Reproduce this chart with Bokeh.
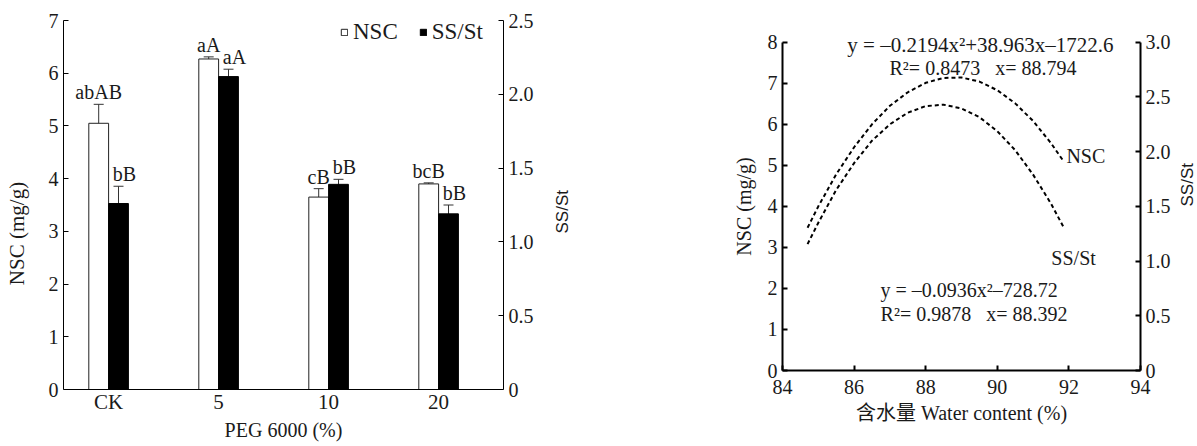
import math
from bokeh.plotting import figure
from bokeh.models import (Range1d, LinearAxis, FixedTicker, ColumnDataSource, Whisker,
                          TeeHead, Legend, LegendItem, Label, NumeralTickFormatter)
from bokeh.layouts import row
from bokeh.embed import file_html
from bokeh.resources import INLINE
from bokeh.core.properties import value

# ---------------- data ----------------
categories = ["CK", "5", "10", "20"]
nsc_mean = [5.05, 6.27, 3.65, 3.90]
nsc_err = [0.36, 0.04, 0.16, 0.02]
ss_mean = [1.26, 2.12, 1.39, 1.19]
ss_err = [0.117, 0.05, 0.034, 0.06]
nsc_letters = ["abAB", "aA", "cB", "bcB"]
ss_letters = ["bB", "aA", "bB", "bB"]

water = [84.7, 85.0, 85.5, 86.0, 86.5, 87.0, 87.5, 88.0, 88.5, 89.0,
         89.5, 90.0, 90.5, 91.0, 91.5, 91.85]
nsc_fit = [3.48, 4.00, 4.78, 5.44, 6.00, 6.45, 6.78, 7.01, 7.13, 7.14,
           7.04, 6.83, 6.51, 6.08, 5.54, 5.10]
ss_fit = [1.155, 1.35, 1.65, 1.895, 2.10, 2.25, 2.356, 2.416, 2.429, 2.395,
          2.315, 2.187, 2.013, 1.79, 1.525, 1.31]

SERIF = "Liberation Serif"
SANS = "Liberation Sans"
TXT = "#1a1a1a"
TOP = 20
FRAME_H = 426          # frames run to the bottom of the canvas; x axes sit at y = 0
LEFT_W = 63 + 440 + 78


def style_axis(ax, size="20px"):
    ax.axis_line_color = "black"
    ax.major_tick_line_color = "black"
    ax.minor_tick_line_color = None
    ax.major_tick_in = 5
    ax.major_tick_out = 0
    ax.major_label_text_font = SERIF
    ax.major_label_text_font_size = size
    ax.major_label_text_color = TXT
    ax.axis_label_text_font = SERIF
    ax.axis_label_text_font_size = "21px"
    ax.axis_label_text_font_style = "normal"
    ax.axis_label_text_color = TXT


# ---------------- left chart ----------------
# 0 -> 369 px below frame top, 7 -> frame top
left_lo = -(FRAME_H - 369) / (369 / 7)
p1 = figure(frame_width=440, frame_height=FRAME_H,
            x_range=Range1d(-0.41, 3.59), y_range=Range1d(left_lo, 7),
            output_backend="svg", toolbar_location=None,
            min_border_left=63, min_border_right=78, min_border_top=TOP, min_border_bottom=0)
p1.outline_line_color = None
p1.xgrid.visible = False
p1.ygrid.visible = False
p1.extra_y_ranges = {"ss": Range1d(left_lo * 2.5 / 7, 2.5)}

idx = list(range(len(categories)))
half = 0.09
xw = [i - half for i in idx]
xb = [i + half for i in idx]

src_n = ColumnDataSource(dict(x=xw, top=nsc_mean, up=[m + e for m, e in zip(nsc_mean, nsc_err)],
                              lo=[m - e for m, e in zip(nsc_mean, nsc_err)], lab=nsc_letters))
src_s = ColumnDataSource(dict(x=xb, top=ss_mean, up=[m + e for m, e in zip(ss_mean, ss_err)],
                              lo=[m - e for m, e in zip(ss_mean, ss_err)], lab=ss_letters))

r_n = p1.vbar(x="x", top="top", bottom=0, width=0.18, source=src_n, fill_color="white",
              line_color="#222222", line_width=1)
r_s = p1.vbar(x="x", top="top", bottom=0, width=0.18, source=src_s, fill_color="black",
              line_color="black", line_width=1, y_range_name="ss")

for src, rng in ((src_n, "default"), (src_s, "ss")):
    w = Whisker(base="x", upper="up", lower="lo", source=src, line_color="#333333",
                line_width=1, y_range_name=rng,
                upper_head=TeeHead(size=10, line_color="#333333", line_width=1),
                lower_head=TeeHead(size=10, line_color="#333333", line_width=1))
    p1.add_layout(w)

p1.text(x="x", y="up", text="lab", source=src_n, text_align="center", text_baseline="bottom",
        y_offset=-1, text_font=value(SERIF), text_font_size="20px", text_color=TXT)
p1.text(x="x", y="up", text="lab", source=src_s, text_align="center", text_baseline="bottom",
        y_offset=-1, x_offset=6, text_font=value(SERIF), text_font_size="20px", text_color=TXT,
        y_range_name="ss")

xa = p1.xaxis[0]
style_axis(xa, "21px")
xa.fixed_location = 0
xa.ticker = FixedTicker(ticks=idx)
xa.major_label_overrides = {i: c for i, c in zip(idx, categories)}
xa.major_tick_line_color = None
xa.major_label_standoff = 0
xa.axis_label = "PEG 6000 (%)"
xa.axis_label_text_font_size = "20px"
xa.axis_label_standoff = 2

ya = p1.yaxis[0]
style_axis(ya)
ya.bounds = (0, 7)
ya.ticker = FixedTicker(ticks=list(range(0, 8)))
ya.axis_label = "NSC (mg/g)"
ya.axis_label_standoff = 17

ra = LinearAxis(y_range_name="ss", axis_label="SS/St", bounds=(0, 2.5),
                ticker=FixedTicker(ticks=[0, 0.5, 1.0, 1.5, 2.0, 2.5]),
                formatter=NumeralTickFormatter(format="0.0"))
style_axis(ra)
ra.major_label_overrides = {0: "0"}
ra.axis_label_text_font = SANS
ra.axis_label_text_font_size = "17px"
ra.axis_label_standoff = 26
ra.axis_label_orientation = math.pi / 2
p1.add_layout(ra, "right")

leg = Legend(items=[LegendItem(label="NSC", renderers=[r_n]),
                    LegendItem(label="SS/St", renderers=[r_s])],
             orientation="horizontal", location=(277, FRAME_H - 25),
             glyph_width=8, glyph_height=8, label_height=24, label_standoff=5, spacing=21,
             padding=0, margin=0, border_line_alpha=0, background_fill_alpha=0,
             label_text_font=SERIF, label_text_font_size="23px", label_text_color=TXT)
p1.add_layout(leg)

# ---------------- right chart ----------------
# canvas-wide frame; every axis is pinned to its data location
FRAME_W2 = 1197 - LEFT_W
x_ppu = (1137 - 779) / 10            # px per % water content
x_lo = 84 - (779 - LEFT_W) / x_ppu
x_hi = 94 + (LEFT_W + FRAME_W2 - 1137) / x_ppu
y_ppu = (350 - 21.7) / 8             # 8 -> 21.7 px below frame top, 0 -> 350 px
r_hi = 8 + 21.7 / y_ppu
r_lo = -(FRAME_H - 350) / y_ppu
p2 = figure(frame_width=FRAME_W2, frame_height=FRAME_H,
            x_range=Range1d(x_lo, x_hi), y_range=Range1d(r_lo, r_hi),
            output_backend="svg", toolbar_location=None,
            min_border_left=0, min_border_right=0, min_border_top=TOP, min_border_bottom=0)
p2.outline_line_color = None
p2.xgrid.visible = False
p2.ygrid.visible = False
p2.extra_y_ranges = {"ss": Range1d(r_lo * 3 / 8, r_hi * 3 / 8)}

p2.line(water, nsc_fit, line_color="black", line_width=2, line_dash="4 3")
p2.line(water, ss_fit, line_color="black", line_width=2, line_dash="4 3", y_range_name="ss")

xa2 = p2.xaxis[0]
style_axis(xa2)
xa2.ticker = FixedTicker(ticks=[84, 86, 88, 90, 92, 94])
xa2.fixed_location = 0
xa2.bounds = (84, 94)
xa2.axis_label = "含水量 Water content (%)"
xa2.axis_label_text_font = "Liberation Serif, Noto Sans CJK SC"
xa2.axis_label_text_font_size = "20px"
xa2.axis_label_standoff = 5
xa2.major_label_standoff = 9
xa2.axis_line_width = 2
xa2.major_tick_line_width = 2

ya2 = p2.yaxis[0]
style_axis(ya2)
ya2.fixed_location = 84
ya2.ticker = FixedTicker(ticks=list(range(0, 9)))
ya2.bounds = (0, 8)
ya2.axis_label = "NSC (mg/g)"
ya2.axis_label_text_font_size = "20px"
ya2.axis_label_standoff = 10
ya2.axis_line_width = 2
ya2.major_tick_line_width = 2

ra2 = LinearAxis(y_range_name="ss", axis_label="SS/St", bounds=(0, 3),
                 ticker=FixedTicker(ticks=[0, 0.5, 1.0, 1.5, 2.0, 2.5, 3.0]),
                 formatter=NumeralTickFormatter(format="0.0"))
style_axis(ra2)
ra2.fixed_location = 94
ra2.major_label_overrides = {0: "0"}
ra2.axis_label_text_font = SANS
ra2.axis_label_text_font_size = "17px"
ra2.axis_label_standoff = 14
ra2.axis_label_orientation = math.pi / 2
ra2.axis_line_width = 2
ra2.major_tick_line_width = 2
p2.add_layout(ra2, "right")


def lab(x, y, t, align="left", size="20px"):
    p2.add_layout(Label(x=x, y=y, text=t, text_align=align, text_baseline="alphabetic",
                        text_font=SERIF, text_font_size=size, text_color=TXT))


lab(89.53, 7.92, "y = –0.2194x²+38.963x–1722.6", "center", "21px")
lab(89.6, 7.37, "R²= 0.8473\u00a0\u00a0 x= 88.794", "center")
lab(91.93, 5.22, "NSC")
lab(91.51, 2.73, "SS/St")
lab(86.74, 1.95, "y = –0.0936x²–728.72")
lab(86.74, 1.37, "R²= 0.9878\u00a0\u00a0 x= 88.392")

layout = row(p1, p2)
open("out.html", "w").write(file_html(layout, INLINE))
